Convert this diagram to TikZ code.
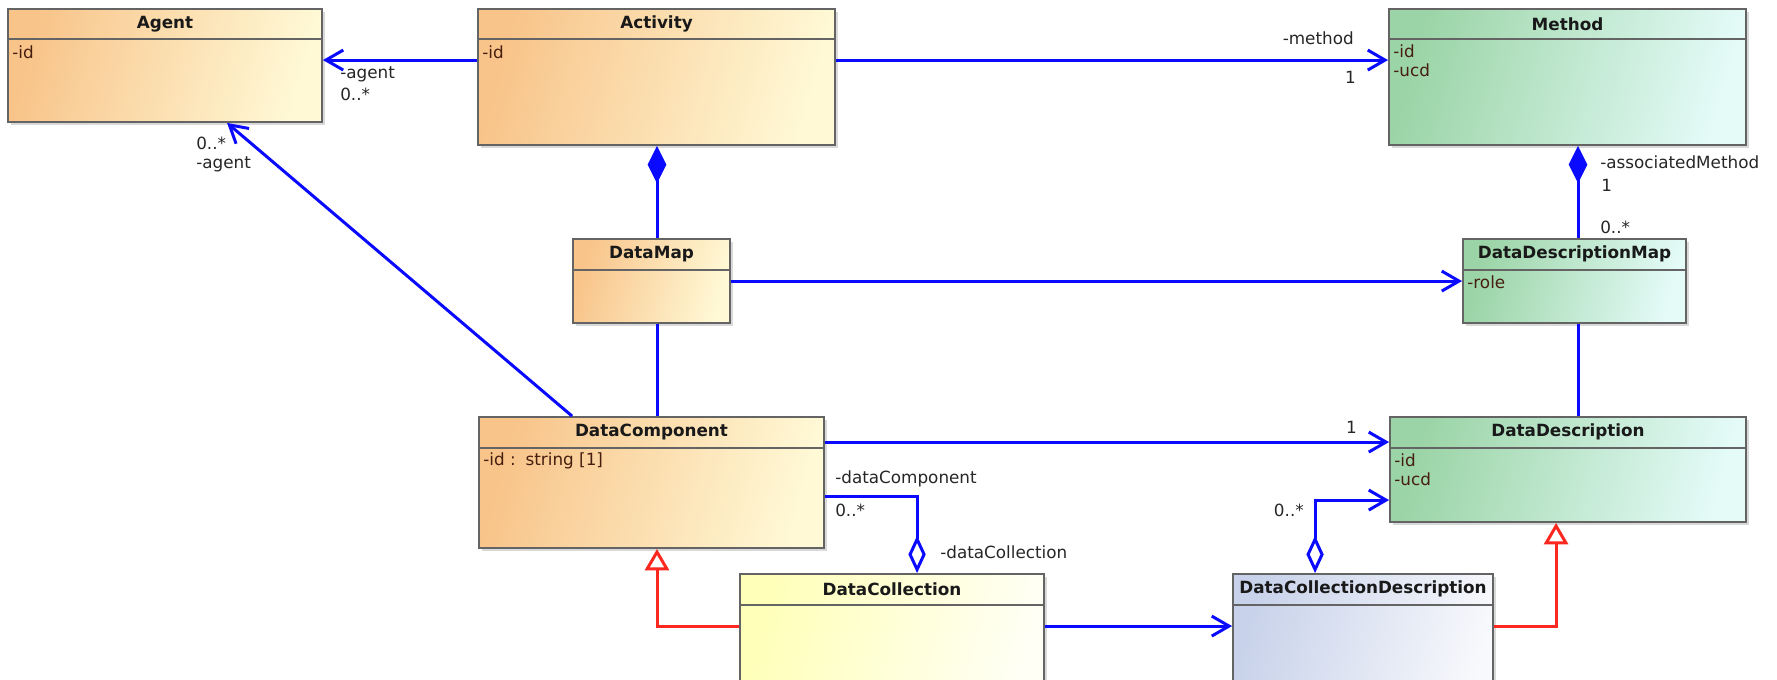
\documentclass[tikz,border=0pt]{standalone}
\usepackage{fontspec}
\setmainfont{DejaVu Sans}
\usetikzlibrary{arrows.meta,calc,fit,shadows}
\definecolor{orA}{RGB}{248,196,138}
\definecolor{orB}{RGB}{255,249,214}
\definecolor{grA}{RGB}{155,212,166}
\definecolor{grB}{RGB}{228,251,248}
\definecolor{ylA}{RGB}{255,255,185}
\definecolor{ylB}{RGB}{255,255,246}
\definecolor{blA}{RGB}{200,210,234}
\definecolor{blB}{RGB}{248,249,252}
\definecolor{bord}{RGB}{100,100,100}
\definecolor{attrc}{RGB}{70,30,15}
\definecolor{lblue}{RGB}{10,10,255}
\definecolor{lred}{RGB}{250,40,30}
\begin{document}
\begin{tikzpicture}[x=0.75pt,y=-0.75pt,
  cls/.style={draw=bord, line width=1.4pt, inner sep=0pt,
    drop shadow={shadow xshift=2pt,shadow yshift=-2pt,opacity=0.3}},
  orbox/.style={cls,left color=orA,right color=orB,shading angle=75},
  grbox/.style={cls,left color=grA,right color=grB,shading angle=75},
  ylbox/.style={cls,left color=ylA,right color=ylB,shading angle=75},
  blbox/.style={cls,left color=blA,right color=blB,shading angle=75},
  title/.style={font=\fontsize{12.6}{15}\selectfont\bfseries, text=black!90, inner sep=0pt},
  attr/.style={font=\fontsize{12.6}{14.25}\selectfont, text=attrc, align=left, anchor=west, inner sep=0pt},
  lbl/.style={font=\fontsize{12.6}{15}\selectfont, text=black!85, inner sep=0pt},
  sepline/.style={draw=bord, line width=1.2pt},
  assoc/.style={draw=lblue, line width=2.25pt, -{Straight Barb[length=13pt,width=15pt]}},
  plainln/.style={draw=lblue, line width=2.25pt},
  compo/.style={draw=lblue, line width=2.25pt, {Diamond[length=28pt,width=14pt]}-},
  aggr/.style={draw=lblue, line width=2.25pt, -{Diamond[open,fill=white,length=28pt,width=13pt]}},
  aggrassoc/.style={draw=lblue, line width=2.25pt, {Diamond[open,fill=white,length=28pt,width=13pt]}-{Straight Barb[length=13pt,width=15pt]}},
  gen/.style={draw=lred, line width=2.25pt, -{Triangle[open,fill=white,length=16pt,width=18pt]}},
]
\useasboundingbox (0,0) rectangle (1777,679);
\clip (0,0) rectangle (1777,679);

% coordinates for vertical line columns
\coordinate (xL) at (657,0);
\coordinate (xR) at (1578,0);

% class boxes
\node[orbox, fit={(8,9)(322,122)}] (agent) {};
\node[orbox, fit={(478,9)(835,145)}] (activity) {};
\node[grbox, fit={(1389,9)(1746,145)}] (method) {};
\node[orbox, fit={(573,239)(730,323)}] (datamap) {};
\node[grbox, fit={(1463,239)(1686,323)}] (ddmap) {};
\node[orbox, fit={(479,417)(824,548)}] (dcomp) {};
\node[grbox, fit={(1390,417)(1746,522)}] (ddesc) {};
\node[ylbox, fit={(740,574)(1044,720)}] (dcoll) {};
\node[blbox, fit={(1233,574)(1493,720)}] (dcd) {};

% header separators
\foreach \n in {agent,activity,method}{
  \draw[sepline] ($(\n.north west)+(0,31)$) -- ($(\n.north east)+(0,31)$);
}
\foreach \n in {datamap,ddmap,dcomp,ddesc,dcoll,dcd}{
  \draw[sepline] ($(\n.north west)+(0,32)$) -- ($(\n.north east)+(0,32)$);
}

% titles
\node[title] (agent-t) at ($(agent.north)+(0,16)$) {Agent};
\node[title] (activity-t) at ($(activity.north)+(0,16)$) {Activity};
\node[title] (method-t) at ($(method.north)+(0,16)$) {Method};
\node[title] (datamap-t) at ($(datamap.north)+(0,16)$) {DataMap};
\node[title] (ddmap-t) at ($(ddmap.north)+(0,16)$) {DataDescriptionMap};
\node[title] (dcomp-t) at ($(dcomp.north)+(0,16)$) {DataComponent};
\node[title] (ddesc-t) at ($(ddesc.north)+(0,16)$) {DataDescription};
\node[title] (dcoll-t) at ($(dcoll.north)+(0,16)$) {DataCollection};
\node[title] (dcd-t) at ($(dcd.north)+(0,16)$) {DataCollectionDescription};

% attributes
\node[attr] (agent-a) at ($(agent.north west)+(5,44)$) {-id};
\node[attr] (activity-a) at ($(activity.north west)+(5,44)$) {-id};
\node[attr, anchor=north west] (method-a) at ($(method.north west)+(5,36)$) {-id\\-ucd};
\node[attr] (ddmap-a) at ($(ddmap.north west)+(5,44)$) {-role};
\node[attr] (dcomp-a) at ($(dcomp.north west)+(5,45)$) {-id :\, string [1]};
\node[attr, anchor=north west] (ddesc-a) at ($(ddesc.north west)+(5,37)$) {-id\\-ucd};

% connectors
\draw[assoc] ($(activity.north west)+(0,52)$) -- ($(agent.north east)+(0,52)$);
\draw[assoc] ($(activity.north east)+(0,52)$) -- ($(method.north west)+(0,52)$);
\draw[compo] (activity.south -| xL) -- (datamap.north -| xL);
\draw[assoc] ($(datamap.north east)+(0,43)$) -- ($(ddmap.north west)+(0,43)$);
\draw[compo] (method.south -| xR) -- (ddmap.north -| xR);
\draw[plainln] (datamap.south -| xL) -- (dcomp.north -| xL);
\draw[plainln] (ddmap.south -| xR) -- (ddesc.north -| xR);
\draw[assoc] ($(dcomp.north west)+(94,0)$) -- ($(agent.south west)+(220,0)$);
\draw[assoc] ($(dcomp.north east)+(0,26)$) -- ($(ddesc.north west)+(0,26)$);
\draw[aggr] ($(dcomp.north east)+(0,80)$) -| ($(dcoll.north west)+(178,0)$);
\draw[assoc] ($(dcoll.north east)+(0,53)$) -- ($(dcd.north west)+(0,53)$);
\draw[aggrassoc] ($(dcd.north west)+(83,0)$) |- ($(ddesc.north west)+(0,84)$);
\draw[gen] ($(dcoll.north west)+(0,53)$) -| (dcomp.south -| xL);
\draw[gen] ($(dcd.north east)+(0,53)$) -| ($(ddesc.south west)+(167,0)$);

% connector labels
\node[lbl, anchor=west] (l1) at (340,74) {-agent};
\node[lbl, anchor=west] (l2) at (340,94) {0..*};
\node[lbl, anchor=east] (l3) at (1354,38) {-method};
\node[lbl, anchor=east] (l4) at (1356,77) {1};
\node[lbl, anchor=west] (l5) at (1600,162) {-associatedMethod};
\node[lbl, anchor=west] (l6) at (1601,185) {1};
\node[lbl, anchor=west] (l7) at (1600,227) {0..*};
\node[lbl, anchor=west] (l8) at (196,143) {0..*};
\node[lbl, anchor=west] (l9) at (196,164) {-agent};
\node[lbl, anchor=east] (l10) at (1357,427) {1};
\node[lbl, anchor=west] (l11) at (835,479) {-dataComponent};
\node[lbl, anchor=west] (l12) at (835,510) {0..*};
\node[lbl, anchor=west] (l13) at (940,552) {-dataCollection};
\node[lbl, anchor=east] (l14) at (1304,510) {0..*};
\end{tikzpicture}
\end{document}
